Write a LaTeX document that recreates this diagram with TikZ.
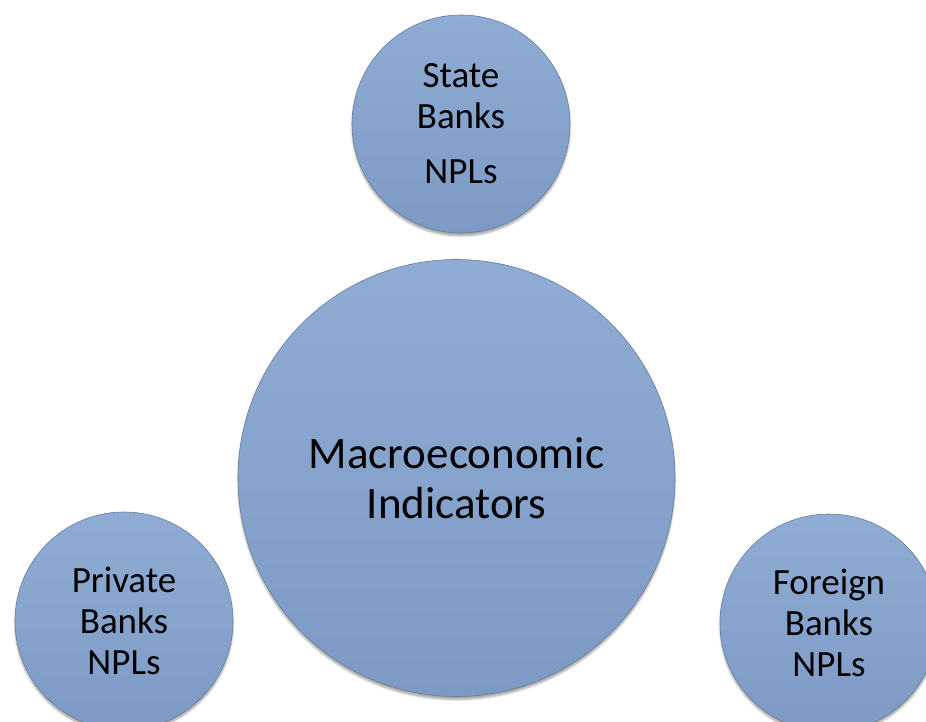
\documentclass[tikz,border=0pt]{standalone}
\usepackage{fontspec}
\setmainfont{Carlito}
\usetikzlibrary{shadows.blur}
\definecolor{circtop}{RGB}{143,172,212}
\definecolor{circbot}{RGB}{124,154,196}
\definecolor{circedge}{RGB}{105,125,155}
\begin{document}
\begin{tikzpicture}[x=1pt,y=-1pt,
  bubble/.style={circle, inner sep=0pt, align=center, draw=circedge, line width=0.6pt,
    top color=circtop, bottom color=circbot, text=black,
    blur shadow={shadow xshift=0pt, shadow yshift=-3pt, shadow blur steps=6, shadow opacity=35}},
  small/.style={bubble, minimum size=218pt, font=\fontsize{37}{41}\selectfont},
  big/.style={bubble, minimum size=437pt, font=\fontsize{45}{50}\selectfont}]
\useasboundingbox (0,0) rectangle (926,722);
\node[small] (state) at (461,124) {State\\Banks\\[14pt]NPLs};
\node[big] (macro) at (456.5,478) {Macroeconomic\\Indicators};
\node[small] (private) at (124,621) {Private\\Banks\\NPLs};
\node[small] (foreign) at (829,623) {Foreign\\Banks\\NPLs};
\end{tikzpicture}
\end{document}
